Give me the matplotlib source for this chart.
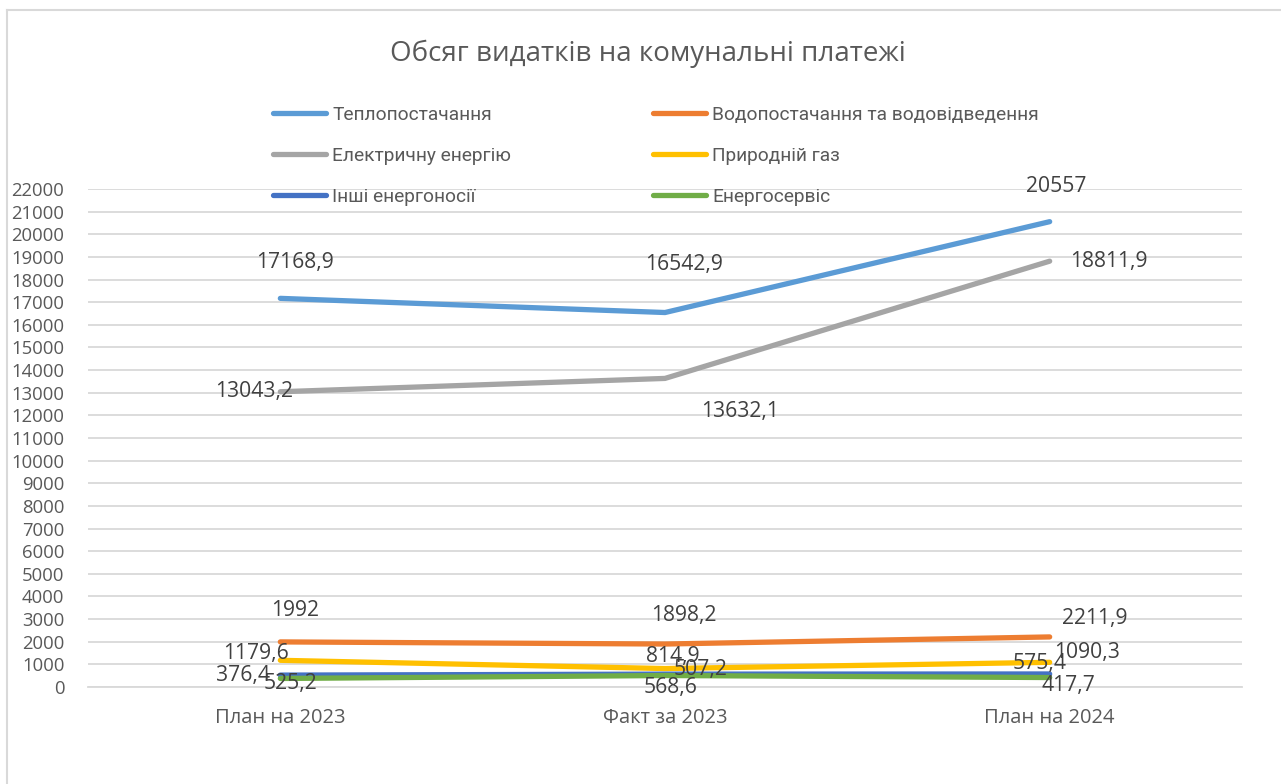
import matplotlib
matplotlib.use("Agg")
import matplotlib.pyplot as plt
from matplotlib.lines import Line2D

plt.rcParams['font.family'] = ['Open Sans', 'DejaVu Sans']

categories = ["План на 2023", "Факт за 2023", "План на 2024"]
series_names = ["Теплопостачання", "Водопостачання та водовідведення",
                "Електричну енергію", "Природній газ",
                "Інші енергоносії", "Енергосервіс"]
teplo = [17168.9, 16542.9, 20557]
vodo = [1992, 1898.2, 2211.9]
elektro = [13043.2, 13632.1, 18811.9]
gaz = [1179.6, 814.9, 1090.3]
inshi = [525.2, 568.6, 575.4]
energoservis = [376.4, 507.2, 417.7]
yticks = list(range(0, 22001, 1000))

colors = ["#5B9BD5", "#ED7D31", "#A5A5A5", "#FFC000", "#4472C4", "#70AD47"]
values = [teplo, vodo, elektro, gaz, inshi, energoservis]
# label offsets in pixels (dx, dy up-positive)
offsets = [
    [(15, 36), (19, 48), (7, 35)],
    [(15, 31), (19, 29), (45, 18)],
    [(-26, 0), (75, -33), (59, 0)],
    [(-24, 7), (8, 12), (37, 10)],
    [(10, -8), (6, -13), (-10, 10)],
    [(-37, 3), (36, 6), (19, -8)],
]

W, H = 1281, 784
fig = plt.figure(figsize=(W / 100, H / 100), dpi=100)
ax = fig.add_axes([88 / W, 1 - 687 / H, (1242 - 88) / W, (687 - 189) / H])

x = list(range(len(categories)))
handles = []
for name, vals, c, offs in zip(series_names, values, colors, offsets):
    ln, = ax.plot(x, vals, color=c, lw=3.8, solid_capstyle='round', label=name)
    handles.append(ln)
    for xi, v, (dx, dy) in zip(x, vals, offs):
        txt = (f"{v:g}").replace('.', ',')
        ax.annotate(txt, (xi, v), xytext=(dx, dy), textcoords='offset pixels',
                    ha='center', va='center', fontsize=15.2, color='#404040',
                    zorder=10)

ax.set_xlim(-0.5, 2.5)
ax.set_ylim(0, 22000)
ax.set_yticks(yticks)
ax.set_yticklabels([str(t) for t in yticks])
ax.set_xticks(x)
ax.set_xticklabels(categories)
ax.tick_params(axis='both', length=0, colors='#595959')
ax.tick_params(axis='y', pad=17, labelsize=13.3)
ax.tick_params(axis='x', pad=15, labelsize=14.5)
ax.yaxis.grid(True, color='#D9D9D9', lw=1.3)
ax.set_axisbelow(True)
for s in ['top', 'right', 'left']:
    ax.spines[s].set_visible(False)
ax.spines['bottom'].set_color('#D9D9D9')
ax.spines['bottom'].set_linewidth(1.3)

fig.text(648 / W, 1 - 54 / H, "Обсяг видатків на комунальні платежі",
         ha='center', va='center', fontsize=20, color='#595959')

order = [0, 2, 4, 1, 3, 5]
leg = fig.legend([handles[i] for i in order], [series_names[i] for i in order],
                 ncol=2, loc='upper left', bbox_to_anchor=(263 / W, 1 - 96 / H),
                 bbox_transform=fig.transFigure, frameon=False, borderpad=0,
                 handlelength=2.8, handletextpad=0.3,
                 labelspacing=1.2, columnspacing=7.4,
                 prop={'family': ['Roboto', 'DejaVu Sans'], 'size': 13.8})
for t in leg.get_texts():
    t.set_color('#595959')

# chart area border (left and top visible)
fig.add_artist(Line2D([7 / W, 7 / W], [0, 1 - 10 / H], transform=fig.transFigure,
                      color='#D9D9D9', lw=1.5))
fig.add_artist(Line2D([7 / W, 1], [1 - 10 / H, 1 - 10 / H], transform=fig.transFigure,
                      color='#D9D9D9', lw=1.5))

fig.savefig("out.png", dpi=100)
